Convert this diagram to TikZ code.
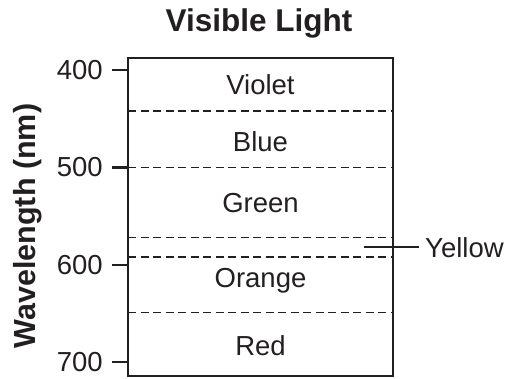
\documentclass[tikz,border=0pt]{standalone}
\usepackage{fontspec}
\setmainfont{Liberation Sans}
\usetikzlibrary{positioning}
\definecolor{ink}{HTML}{231F20}

\begin{document}
\begin{tikzpicture}[x=1pt, y=-1pt, line cap=butt, draw=ink, text=ink,
  head/.style = {font=\fontsize{31.5}{35}\selectfont\bfseries, inner sep=0pt, anchor=base},
  band/.style = {font=\fontsize{27.5}{31}\selectfont, inner sep=0pt, anchor=base},
  num/.style = {font=\fontsize{27.5}{31}\selectfont, inner sep=0pt, anchor=east},
  frame/.style = {line width=2pt},
  tickmark/.style = {line width=2.6pt},
  border/.style = {dash pattern=on 8pt off 4.5pt, line width=1.1pt}]
\useasboundingbox (0,0) rectangle (506,378);

\node[head] (title) at (259,31.7) {Visible Light};
\node[head, font=\fontsize{30.5}{34}\selectfont\bfseries, rotate=90] (ylab) at (35,226) {Wavelength (nm)};

% the scale box
\coordinate (bxnw) at (128,58);
\coordinate (bxse) at (393,376);
\draw[frame] (bxnw) rectangle (bxse);

% band borders
\foreach \y in {111, 167.5, 237.5, 257, 312.5}
  \draw[border] (128,\y) -- (393,\y);

% ticks
\foreach \y/\lab in {70/400, 167.5/500, 265/600, 362/700} {
  \node[num] (t\lab) at (103,\y) {\lab};
  \draw[tickmark] (112,\y) -- (128,\y);
}

\node[band] (violet) at (260.5,94.3) {Violet};
\node[band] (blue) at (260.5,151.7) {Blue};
\node[band] (green) at (260.5,212.7) {Green};
\node[band] (orange) at (260.5,287.7) {Orange};
\node[band] (red) at (260.5,355) {Red};

\node[band, anchor=base west] (yellow) at (425,257.3) {Yellow};
\coordinate (ypin) at (364,247.3);
\draw[frame] (ypin) -- ([xshift=-6pt]yellow.west |- ypin);
\end{tikzpicture}
\end{document}
